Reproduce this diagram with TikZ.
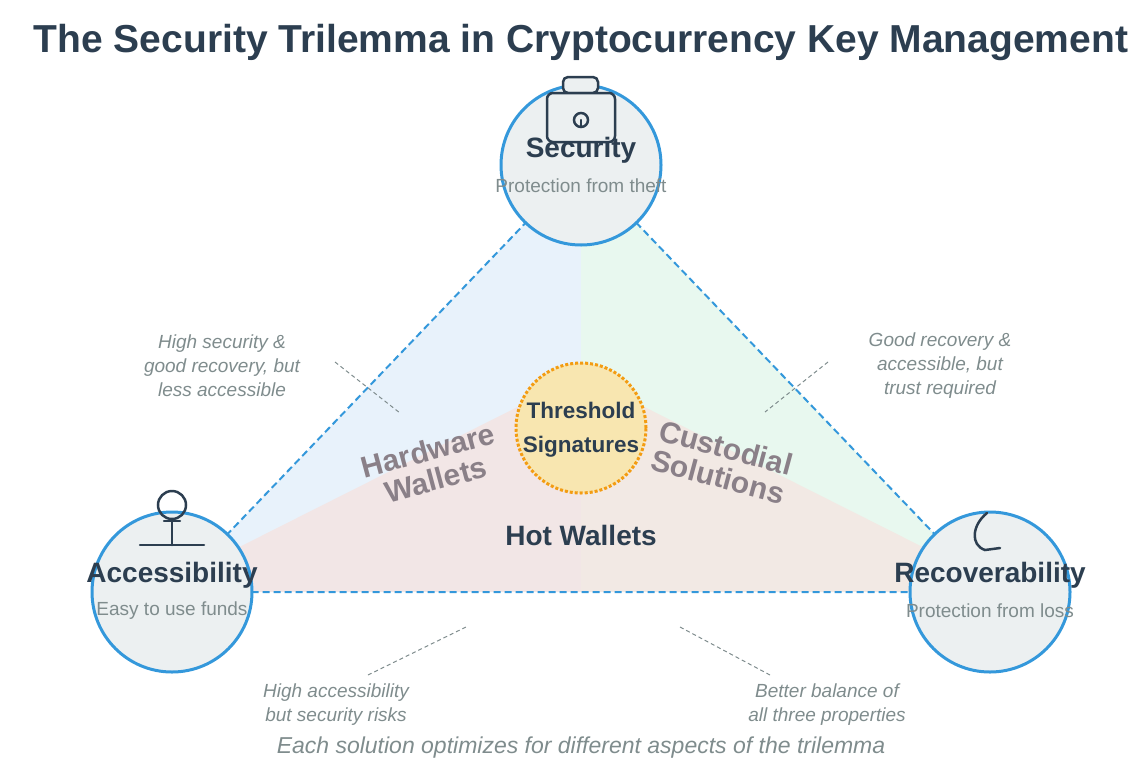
\documentclass[tikz,border=0pt]{standalone}
\usepackage{fontspec}
\setmainfont{Liberation Sans}
\definecolor{navy}{HTML}{2C3E50}
\definecolor{gtxt}{HTML}{7F8C8D}
\definecolor{cblue}{HTML}{3498DB}
\definecolor{cfill}{HTML}{ECF0F1}
\definecolor{wlab}{HTML}{8A8088}
\definecolor{rblue}{HTML}{E8F2FB}
\definecolor{rgreen}{HTML}{E8F8EF}
\definecolor{rpink}{HTML}{F2E6E6}
\definecolor{rbeige}{HTML}{F2E9E4}
\definecolor{thrfill}{HTML}{F8E6B0}
\definecolor{thrline}{HTML}{F39C12}
\begin{document}
\begin{tikzpicture}[x=1pt,y=-1pt,
  prop/.style={circle,draw=cblue,line width=3pt,fill=cfill,minimum size=160pt,inner sep=0pt},
  ptitle/.style={font=\fontsize{28}{32}\selectfont\bfseries,text=navy},
  psub/.style={font=\fontsize{19}{22}\selectfont,text=gtxt},
  note/.style={font=\fontsize{19}{24}\selectfont\itshape,text=gtxt,align=center},
  lead/.style={draw=gtxt,dash pattern=on 4pt off 3pt,line width=1pt},
  wl/.style={font=\fontsize{30}{30}\selectfont\bfseries,text=wlab,align=center},
  edge/.style={draw=cblue,dash pattern=on 7pt off 4pt,line width=2pt},
  icon/.style={draw=navy,line width=2.5pt,line cap=round}]
\useasboundingbox (0,0) rectangle (1134,774);
\coordinate (T) at (581,165); \coordinate (L) at (172,592); \coordinate (R) at (990,592);
\coordinate (C) at (581,375);
\fill[rblue] (T) -- (L) -- (C) -- cycle;
\fill[rgreen] (T) -- (R) -- (C) -- cycle;
\fill[rpink] (C) -- (150,592) -- (581,592) -- cycle;
\fill[rbeige] (C) -- (1012,592) -- (581,592) -- cycle;
\draw[edge] (T) -- (L) -- (R) -- cycle;
\node[font=\fontsize{39}{42}\selectfont\bfseries,text=navy] (title) at (581,42) {The Security Trilemma in Cryptocurrency Key Management};
\node[prop] (sec) at (581,165) {};
\node[prop] (acc) at (172,592) {};
\node[prop] (rec) at (990,592) {};
% icons
\draw[icon,fill=cfill,rounded corners=5pt] (563,93) rectangle (598,77);
\draw[icon,fill=cfill,rounded corners=6pt] (547,93) rectangle (615,142);
\draw[icon] (581,120) circle (7);
\draw[icon] (581,120) -- (581,126);
\draw[icon] (172,505) circle (14);
\draw[icon] (164,521) -- (180,521); \draw[icon] (172,521) -- (172,545);
\draw[icon] (140,545) -- (204,545);
\draw[icon] (987,513) .. controls (972,525) and (970,545) .. (985,550) -- (1000,548);
\node[ptitle] (secT) at (581,150) {Security};
\node[psub] (secS) at (581,186) {Protection from theft};
\node[ptitle] (accT) at (172,575) {Accessibility};
\node[psub] (accS) at (172,611) {Easy to use funds};
\node[ptitle] (recT) at (990,575) {Recoverability};
\node[psub] (recS) at (990,611) {Protection from loss};
\node[circle,draw=thrline,dotted,line width=3pt,fill=thrfill,minimum size=130pt,inner sep=0pt] (thr) at (581,428) {};
\node[font=\fontsize{22.5}{34}\selectfont\bfseries,text=navy,align=center] (thrT) at (581,430) {Threshold\\Signatures};
\node[wl,rotate=15] (hw) at (432,465) {Hardware\\Wallets};
\node[wl,rotate=-15] (cs) at (722,462) {Custodial\\Solutions};
\node[ptitle] (hot) at (581,535) {Hot Wallets};
\node[note] (n1) at (222,366) {High security \&\\good recovery, but\\less accessible};
\node[note] (n2) at (940,366) {Good recovery \&\\accessible, but\\trust required};
\node[note] (n3) at (336,705) {High accessibility\\but security risks};
\node[note] (n4) at (827,705) {Better balance of\\all three properties};
\coordinate (a1) at (335,362); \coordinate (b1) at (400,413);
\coordinate (a2) at (828,362); \coordinate (b2) at (765,412);
\coordinate (a3) at (368,675); \coordinate (b3) at (466,627);
\coordinate (a4) at (770,675); \coordinate (b4) at (680,627);
\draw[lead] (a1) -- (b1); \draw[lead] (a2) -- (b2);
\draw[lead] (a3) -- (b3); \draw[lead] (a4) -- (b4);
\node[font=\fontsize{23}{26}\selectfont\itshape,text=gtxt] (foot) at (581,748) {Each solution optimizes for different aspects of the trilemma};
\end{tikzpicture}
\end{document}
